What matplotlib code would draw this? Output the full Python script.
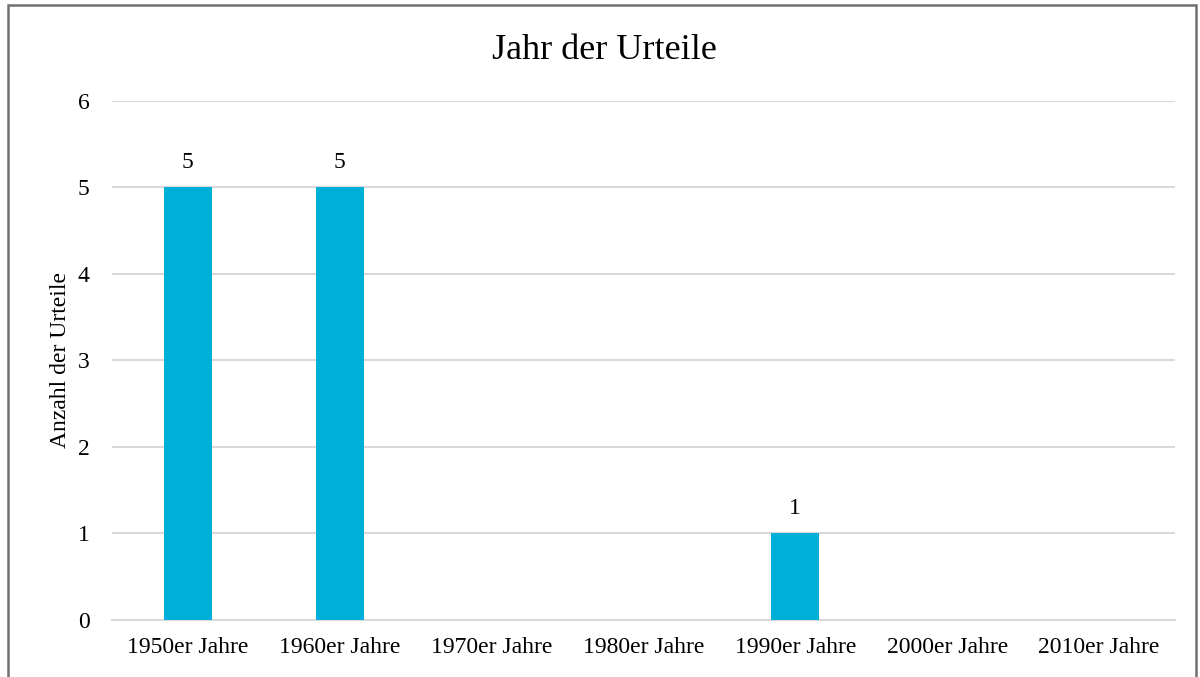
import matplotlib.pyplot as plt
from matplotlib.patches import Rectangle

plt.rcParams['font.family'] = ['Liberation Serif', 'DejaVu Serif']

# Daten
jahrzehnte = ['1950er Jahre', '1960er Jahre', '1970er Jahre', '1980er Jahre',
              '1990er Jahre', '2000er Jahre', '2010er Jahre']
anzahl = [5, 5, 0, 0, 1, 0, 0]

fig = plt.figure(figsize=(12, 6.77), dpi=100)
ax = fig.add_axes([0.0933, 0.0842, 0.8858, 0.767])

x = range(len(jahrzehnte))
balken = ax.bar(x, anzahl, width=0.315, color='#00B0D8', zorder=3)

# Beschriftungen über den Balken (nur wo Wert > 0)
for xi, wert in zip(x, anzahl):
    if wert > 0:
        ax.text(xi, wert + 0.17, str(wert), ha='center', va='bottom', fontsize=17)

ax.set_xlim(-0.5, len(jahrzehnte) - 0.5)
ax.set_ylim(0, 6)
ax.set_yticks(range(0, 7))
ax.set_xticks(list(x))
ax.set_xticklabels(jahrzehnte)
ax.tick_params(axis='both', length=0, labelsize=17)
ax.tick_params(axis='x', pad=12)
ax.tick_params(axis='y', pad=16)

ax.grid(axis='y', color='#d9d9d9', linewidth=1.5, zorder=0)
for s in ['top', 'right', 'left']:
    ax.spines[s].set_visible(False)
ax.spines['bottom'].set_color('#d9d9d9')
ax.spines['bottom'].set_linewidth(1.5)

ax.set_ylabel('Anzahl der Urteile', fontsize=17)
ax.yaxis.set_label_coords(-0.039, 0.5)
fig.text(0.504, 0.926, 'Jahr der Urteile', ha='center', va='center', fontsize=26)

# Rahmen um das Diagramm
fig.patches.append(Rectangle((0.0065, -0.05), 0.990, 1.043, transform=fig.transFigure,
                             fill=False, edgecolor='#707070', linewidth=1.8))

fig.savefig('out.png', dpi=100)
